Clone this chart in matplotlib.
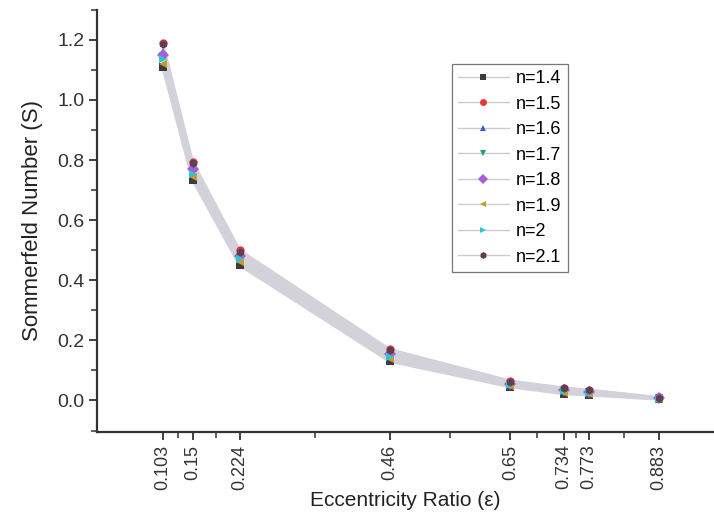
import numpy as np
import matplotlib
matplotlib.use("Agg")
import matplotlib.pyplot as plt

plt.rcParams['font.family'] = ['Liberation Sans', 'DejaVu Sans']

# eccentricity ratio values
ecc = [0.103, 0.15, 0.224, 0.46, 0.65, 0.734, 0.773, 0.883]

# Sommerfeld number for each exponent n
n_labels = ["n=1.4", "n=1.5", "n=1.6", "n=1.7", "n=1.8", "n=1.9", "n=2", "n=2.1"]
S_14 = [1.110, 0.735, 0.450, 0.130, 0.045, 0.022, 0.018, 0.004]
S_15 = [1.190, 0.795, 0.500, 0.170, 0.065, 0.042, 0.035, 0.010]
S_16 = [1.160, 0.775, 0.485, 0.160, 0.058, 0.036, 0.030, 0.008]
S_17 = [1.145, 0.765, 0.478, 0.152, 0.055, 0.033, 0.027, 0.007]
S_18 = [1.150, 0.770, 0.480, 0.155, 0.056, 0.034, 0.028, 0.007]
S_19 = [1.120, 0.745, 0.460, 0.138, 0.048, 0.026, 0.021, 0.005]
S_20 = [1.135, 0.755, 0.470, 0.145, 0.052, 0.030, 0.024, 0.006]
S_21 = [1.185, 0.790, 0.495, 0.168, 0.063, 0.040, 0.034, 0.009]
series = [S_14, S_15, S_16, S_17, S_18, S_19, S_20, S_21]

colors = ['#3c3c3c', '#e8363c', '#2f5fc8', '#219c7a', '#a55fd8',
          '#c49a35', '#2ec4d4', '#5e4050']
markers = ['s', 'o', '^', 'v', 'D', '<', '>', 'h']

fig = plt.figure(figsize=(7.14, 5.18), dpi=100)
ax = fig.add_axes([0.136, 0.166, 0.864, 0.815])

# connecting lines first (pale grey band), markers on top
for S in series:
    ax.plot(ecc, S, color='#d3d2da', lw=2.0, solid_capstyle='butt')
for S, c, m in zip(series, colors, markers):
    ax.plot(ecc, S, linestyle='none', marker=m, color=c, markersize=6,
            markeredgewidth=0)

handles = []
for lab, c, m in zip(n_labels, colors, markers):
    h, = ax.plot([], [], color='#cccccc', lw=1.0, marker=m,
                 markerfacecolor=c, markeredgewidth=0, markersize=5, label=lab)
    handles.append(h)

ax.set_xlim(0.0, 0.97)
ax.set_ylim(-0.105, 1.3)

ax.set_xticks(ecc)
ax.set_xticklabels([str(e) for e in ecc], rotation=90)
mids = [(a + b) / 2 for a, b in zip(ecc[:-1], ecc[1:])]
ax.set_xticks(mids, minor=True)
ax.set_yticks([0.0, 0.2, 0.4, 0.6, 0.8, 1.0, 1.2])
ax.set_yticks(np.arange(-0.1, 1.31, 0.2), minor=True)

ax.spines['top'].set_visible(False)
ax.spines['right'].set_visible(False)
for s in ['left', 'bottom']:
    ax.spines[s].set_linewidth(1.6)
    ax.spines[s].set_color('#333333')

ax.tick_params(axis='both', which='major', direction='out', length=6,
               width=1.3, colors='#333333', pad=3)
ax.tick_params(axis='y', which='major', labelsize=14)
ax.tick_params(axis='x', which='major', labelsize=13)
ax.tick_params(axis='both', which='minor', direction='out', length=4, width=1.1,
               colors='#333333')
ax.yaxis.set_major_formatter(matplotlib.ticker.FormatStrFormatter('%.1f'))

ax.set_xlabel("Eccentricity Ratio (\u03b5)", fontsize=15, color='#222222',
              labelpad=1)
ax.set_ylabel("Sommerfeld Number (S)", fontsize=16, color='#222222',
              labelpad=10)

leg = ax.legend(handles=handles, loc='upper left', bbox_to_anchor=(0.575, 0.872),
                fontsize=13, frameon=True, fancybox=False, edgecolor='#555555',
                handlelength=2.8, handletextpad=0.4, labelspacing=0.47,
                borderpad=0.35, borderaxespad=0)
leg.get_frame().set_linewidth(0.9)

plt.savefig("out.png", dpi=100)
